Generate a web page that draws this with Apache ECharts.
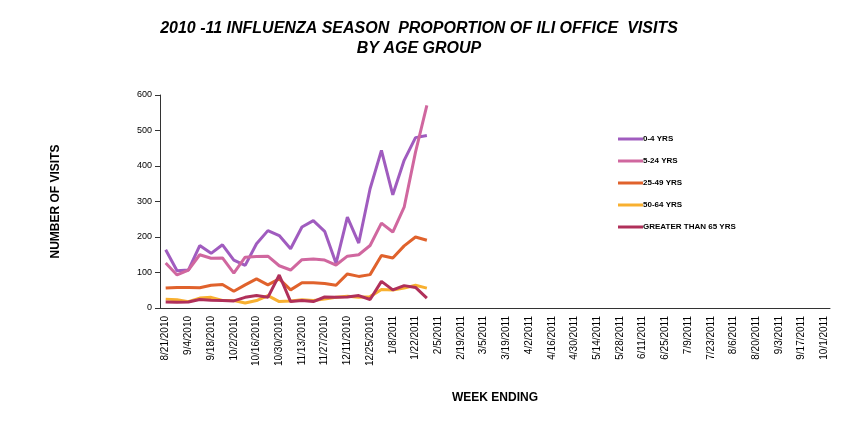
<!DOCTYPE html>
<html><head><meta charset="utf-8">
<script src="https://cdn.jsdelivr.net/npm/echarts@6/dist/echarts.min.js"></script>
<style>html,body{margin:0;background:#fff}#c{width:863px;height:421px}</style>
</head><body><div id="c"></div>
<script>
const seriesNames = ['0-4 YRS','5-24 YRS','25-49 YRS','50-64 YRS','GREATER THAN 65 YRS'];
const colors = ['#a05cbf','#d0679f','#e0622c','#f8b030','#b0305a'];
const age0_4 = [164,105,107,176,154,178,135,120,181,218,204,167,228,246,216,126,256,183,336,444,319,416,480,486];
const age5_24 = [127,93,107,150,140,141,98,143,145,146,119,107,136,138,135,121,146,150,176,239,214,284,439,571];
const age25_49 = [56,58,58,57,64,66,47,65,82,65,82,51,71,71,69,64,96,89,94,148,141,175,200,191];
const age50_64 = [25,23,18,28,30,21,21,14,21,35,18,20,23,21,25,30,33,30,32,52,51,56,64,56];
const age65plus = [17,16,17,24,22,21,20,30,35,30,93,18,21,18,31,30,31,35,24,75,51,63,58,28];
// weekly categories 8/21/2010 .. 10/1/2011
const categories = [];
{ let d = new Date(2010,7,21); const end = new Date(2011,9,1);
  while (d <= end) { categories.push((d.getMonth()+1)+'/'+d.getDate()+'/'+d.getFullYear()); d = new Date(d.getFullYear(), d.getMonth(), d.getDate()+7); } }
const data = [age0_4, age5_24, age25_49, age50_64, age65plus];
const chart = echarts.init(document.getElementById('c'));
const axisStyle = {lineStyle:{color:'#333'}};
chart.setOption({
  animation:false,
  title:{text:'2010 -11 INFLUENZA SEASON  PROPORTION OF ILI OFFICE  VISITS\nBY AGE GROUP',left:414,top:14,textAlign:'center',
    textStyle:{fontFamily:'Liberation Sans',fontStyle:'italic',fontWeight:'bold',fontSize:16,lineHeight:20,color:'#000'}},
  legend:{orient:'vertical',left:613,top:130,itemGap:14,itemWidth:25,itemHeight:3,icon:'rect',
    textStyle:{fontSize:8,fontWeight:'bold',fontFamily:'Liberation Sans',color:'#000',padding:[0,0,0,-5]},data:seriesNames},
  grid:{left:160,right:33,top:95,bottom:113},
  xAxis:{type:'category',data:categories,boundaryGap:true,
    name:'WEEK ENDING',nameLocation:'middle',nameGap:84,
    nameTextStyle:{fontSize:12,fontWeight:'bold',fontFamily:'Liberation Sans',color:'#000'},
    axisLine:axisStyle,axisTick:{lineStyle:{color:'#333'},interval:0},
    axisLabel:{interval:1,rotate:90,fontSize:10,color:'#000',fontFamily:'Liberation Sans'}},
  yAxis:{type:'value',min:0,max:600,interval:100,
    name:'NUMBER OF VISITS',nameLocation:'middle',nameGap:98,
    nameTextStyle:{fontSize:12,fontWeight:'bold',fontFamily:'Liberation Sans',color:'#000'},
    axisLine:{show:true,lineStyle:{color:'#333'}},axisTick:{show:true},splitLine:{show:false},
    axisLabel:{fontSize:9,color:'#000',fontFamily:'Liberation Sans'}},
  series:seriesNames.map((n,i)=>({name:n,type:'line',data:data[i],showSymbol:false,
    lineStyle:{width:3,color:colors[i]},itemStyle:{color:colors[i]}}))
});
</script></body></html>
